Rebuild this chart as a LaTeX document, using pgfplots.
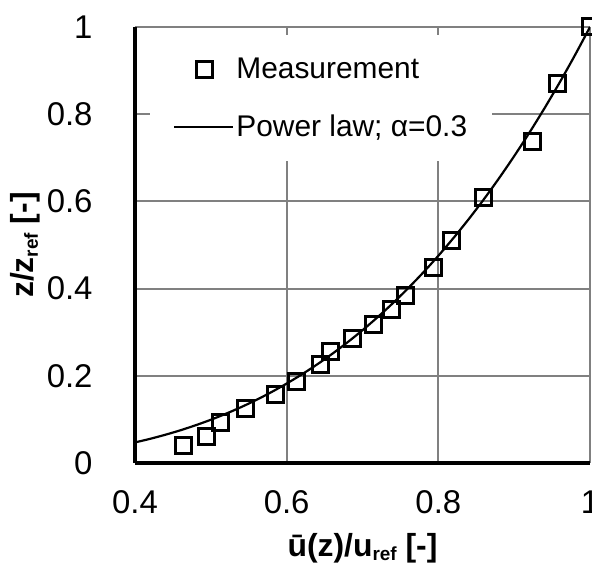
\documentclass[border=0pt]{standalone}
\usepackage{pgfplots}
\pgfplotsset{compat=1.18}
\usepackage{fontspec}
\setmainfont{Liberation Sans}
\definecolor{gridgray}{RGB}{128,128,128}
\pgfplotsset{
  markleg/.style={legend image code/.code={\draw[mark repeat=2,mark phase=2,##1] plot coordinates {(0bp,0bp) (30bp,0bp) (60bp,0bp)};}},
  lineleg/.style={legend image code/.code={\draw[##1] (0bp,0bp) -- (59bp,0bp);}},
}
\begin{document}
\begin{tikzpicture}
\begin{axis}[
  name=ax,
  width=455bp, height=436bp, scale only axis,
  xmin=0.4, xmax=1, ymin=0, ymax=1,
  xtick={0.4,0.6,0.8,1}, ytick={0,0.2,0.4,0.6,0.8,1},
  xticklabels={0.4,0.6,0.8,1}, yticklabels={0,0.2,0.4,0.6,0.8,1},
  /pgf/number format/assume math mode=true,
  grid=major,
  major grid style={draw=gridgray, line width=2bp},
  axis x line=bottom, axis y line=left,
  axis line style={line width=4bp, -},
  major tick length=0pt,
  tick label style={font=\fontsize{33}{33}\selectfont},
  xticklabel style={yshift=-24bp},
  yticklabel style={xshift=-39bp},
  xlabel={\bfseries ū(z)/u\raisebox{-0.25ex}{\fontsize{19}{19}\selectfont ref} [-]},
  ylabel={\bfseries z/z\raisebox{-0.25ex}{\fontsize{19}{19}\selectfont ref} [-]},
  label style={font=\fontsize{32}{32}\selectfont},
  xlabel style={at={(axis description cs:0.5,-0.195)}, anchor=center},
  ylabel style={at={(axis description cs:-0.241,0.5)}, anchor=center},
  legend style={at={(axis description cs:0.033,0.982)}, anchor=north west,
    draw=none, fill=white, font=\fontsize{30}{30}\selectfont,
    inner xsep=23bp, inner ysep=21bp, row sep=31bp,
    nodes={inner sep=2bp}},
  legend cell align=left,
]
\addplot[only marks, mark=square, mark size=8bp, mark options={line width=3bp, black}, black, markleg]
  coordinates {
  (0.464,0.041) (0.494,0.060) (0.513,0.092) (0.546,0.124) (0.585,0.158)
  (0.613,0.188) (0.645,0.227) (0.658,0.255) (0.687,0.286) (0.714,0.318)
  (0.738,0.351) (0.757,0.384) (0.794,0.448) (0.817,0.511) (0.859,0.608)
  (0.924,0.738) (0.957,0.871) (1.000,1.000)
  };
\addlegendentry{Measurement}
\addplot[black, line width=2.2bp, no marks, smooth, lineleg]
  coordinates {
  (0.40,0.0472) (0.42,0.0555) (0.44,0.0648) (0.46,0.0751) (0.48,0.0866)
  (0.50,0.0992) (0.52,0.1131) (0.54,0.1282) (0.56,0.1447) (0.58,0.1627)
  (0.60,0.1822) (0.62,0.2032) (0.64,0.2259) (0.66,0.2503) (0.68,0.2765)
  (0.70,0.3046) (0.72,0.3346) (0.74,0.3665) (0.76,0.4006) (0.78,0.4368)
  (0.80,0.4753) (0.82,0.5161) (0.84,0.5592) (0.86,0.6048) (0.88,0.6530)
  (0.90,0.7038) (0.92,0.7574) (0.94,0.8137) (0.96,0.8728) (0.98,0.9349)
  (1.00,1.0000)
  };
\addlegendentry{Power law; α=0.3}
\end{axis}
\pgfresetboundingbox
\path[use as bounding box] ([xshift=-135bp,yshift=-115bp]ax.south west) rectangle ([xshift=2bp,yshift=27bp]ax.north east);
\end{tikzpicture}
\end{document}
